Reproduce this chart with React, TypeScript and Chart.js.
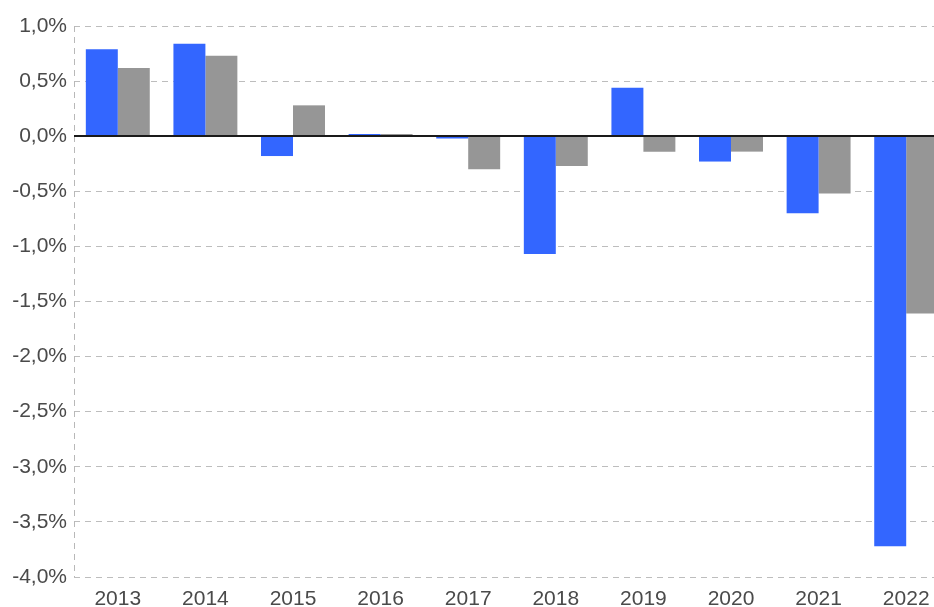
import React, { useEffect, useRef } from "react";
import { Chart, registerables } from "chart.js";

Chart.register(...registerables);

const years = ["2013", "2014", "2015", "2016", "2017", "2018", "2019", "2020", "2021", "2022"];
const blueValues = [0.79, 0.84, -0.18, 0.02, -0.02, -1.07, 0.44, -0.23, -0.7, -3.72];
const greyValues = [0.62, 0.73, 0.28, 0.02, -0.3, -0.27, -0.14, -0.14, -0.52, -1.61];
const yMin = -4.0;
const yMax = 1.0;
const yStep = 0.5;

const axisLines = {
  id: "axisLines",
  beforeDatasetsDraw(chart: any) {
    const { ctx, chartArea } = chart;
    ctx.save();
    ctx.strokeStyle = "#b8b8b8";
    ctx.lineWidth = 1;
    ctx.setLineDash([6, 5]);
    ctx.beginPath();
    ctx.moveTo(chartArea.left + 0.5, chartArea.top);
    ctx.lineTo(chartArea.left + 0.5, chartArea.bottom);
    ctx.stroke();
    ctx.restore();
  },
  afterDatasetsDraw(chart: any) {
    const { ctx, chartArea, scales } = chart;
    const y0 = Math.round(scales.y.getPixelForValue(0));
    ctx.save();
    ctx.strokeStyle = "#1a1a1a";
    ctx.lineWidth = 2;
    ctx.beginPath();
    ctx.moveTo(chartArea.left, y0);
    ctx.lineTo(chartArea.right, y0);
    ctx.stroke();
    ctx.restore();
  },
};

export default function App() {
  const ref = useRef<HTMLCanvasElement>(null);
  useEffect(() => {
    if (!ref.current) return;
    const chart = new Chart(ref.current, {
      type: "bar",
      data: {
        labels: years,
        datasets: [
          { data: blueValues, backgroundColor: "#3366ff", borderWidth: 0 },
          { data: greyValues, backgroundColor: "#969696", borderWidth: 0 },
        ],
      },
      options: {
        responsive: false,
        animation: false,
        devicePixelRatio: 1,
        layout: { padding: { top: 26, right: 2, left: 0, bottom: 0 } },
        plugins: { legend: { display: false }, tooltip: { enabled: false } },
        datasets: { bar: { categoryPercentage: 0.73, barPercentage: 1.0 } },
        scales: {
          x: {
            grid: { display: false },
            border: { display: false },
            ticks: {
              color: "#4a4a4a",
              padding: 2,
              maxRotation: 0,
              font: { family: "'Liberation Sans', Arial, sans-serif", size: 21 },
            },
            afterFit(scale: any) {
              scale.height = 30;
            },
          },
          y: {
            min: yMin,
            max: yMax,
            grid: { color: "#bdbdbd", lineWidth: 1, drawTicks: false },
            border: { display: false, dash: [6, 5] },
            ticks: {
              stepSize: yStep,
              color: "#4a4a4a",
              padding: 7,
              font: { family: "'Liberation Sans', Arial, sans-serif", size: 21 },
              callback: (v: any) => Number(v).toFixed(1).replace(".", ",") + "%",
            },
            afterFit(scale: any) {
              scale.width = 74;
            },
          },
        },
      },
      plugins: [axisLines],
    });
    return () => chart.destroy();
  }, []);
  return (
    <div
      style={{
        position: "fixed",
        left: 0,
        top: 0,
        width: 934,
        height: 607,
        overflow: "hidden",
        background: "#ffffff",
      }}
    >
      <canvas ref={ref} width={952} height={607} style={{ display: "block", width: 952, height: 607 }} />
    </div>
  );
}
